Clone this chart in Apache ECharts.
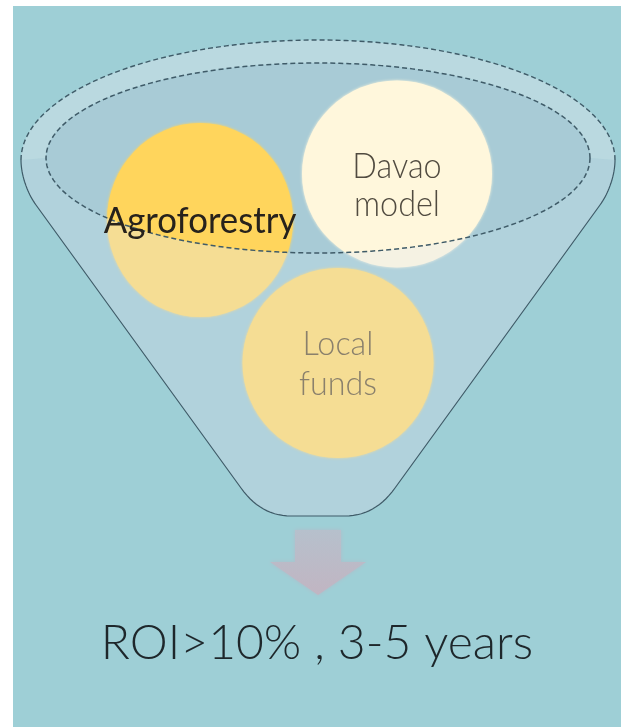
<!DOCTYPE html>
<html><head><meta charset="utf-8">
<script src="https://cdn.jsdelivr.net/npm/echarts@6/dist/echarts.min.js"></script>
<style>html,body{margin:0;padding:0;background:#fff;width:621px;height:727px;overflow:hidden}#c{position:absolute;left:13px;top:6px;width:608px;height:721px;}</style>
</head><body><div id="c"></div>
<script>
// ---- data ----
const circleNames = ['Agroforestry', 'Davao model', 'Local funds'];
const circleLabels = ['Agroforestry', 'Davao\nmodel', 'Local\nfunds'];
const circleX = [200, 397, 338];
const circleY = [220, 174, 363];
const circleW = [186, 190, 191];
const circleH = [194, 187, 190];
const caption = 'ROI>10% , 3-5 years';
// funnel geometry in data units: [cx, cy]
const funnelCenter = [318, 160];
const outerRim = [297, 120];      // rx, ry of funnel mouth
const innerRim = [272, 95, 158];  // rx, ry, cy of inner rim
const funnelSideTop = [282, 205]; // x offset from centre, y
const funnelSideBottom = [77, 488];
const funnelNeck = [27, 516, 57]; // half width, y, corner x offset
const arrowShape = [318, 530, 23, 562, 48, 595]; // cx, top, shaftHalf, headY, headHalf, tipY

// ---- styles ----
const circleColors = ['#FFD55C', '#FFF7DC', '#FFD55C'];
const labelColors = ['#27221C', '#514B40', '#8A806C'];
const labelSizes = [37, 36, 34];
const labelWeights = [400, 300, 300];
const labelScaleX = [0.94, 0.9, 0.95];
const labelLineHeights = [40, 38, 40];
const labelOffsets = [[0, 1], [0, 11], [0, 1]];

const chart = echarts.init(document.getElementById('c'));

function ellipsePts(cx, cy, rx, ry, t0, t1, n) {
  const pts = [];
  for (let i = 0; i <= n; i++) {
    const t = t0 + (t1 - t0) * i / n;
    pts.push([cx + rx * Math.cos(t), cy + ry * Math.sin(t)]);
  }
  return pts;
}
function cubic(p0, p1, p2, p3, n) {
  const pts = [];
  for (let i = 0; i <= n; i++) {
    const t = i / n, u = 1 - t;
    pts.push([
      u*u*u*p0[0] + 3*u*u*t*p1[0] + 3*u*t*t*p2[0] + t*t*t*p3[0],
      u*u*u*p0[1] + 3*u*u*t*p1[1] + 3*u*t*t*p2[1] + t*t*t*p3[1]
    ]);
  }
  return pts;
}
function quad(p0, p1, p2, n) {
  const pts = [];
  for (let i = 0; i <= n; i++) {
    const t = i / n, u = 1 - t;
    pts.push([u*u*p0[0] + 2*u*t*p1[0] + t*t*p2[0], u*u*p0[1] + 2*u*t*p1[1] + t*t*p2[1]]);
  }
  return pts;
}
function funnelGeom(cx, cy) {
  const [orx, ory] = outerRim;
  const [irx, iry, icy] = innerRim;
  const st = [cx + funnelSideTop[0], funnelSideTop[1]];
  const sb = [cx + funnelSideBottom[0], funnelSideBottom[1]];
  const dx = sb[0] - st[0], dy = sb[1] - st[1], L = Math.hypot(dx, dy);
  const ux = dx / L, uy = dy / L;
  const right = []
    .concat(cubic([cx + orx, cy], [cx + orx, cy + 15], [st[0] - ux * 15, st[1] - uy * 15], st, 20))
    .concat([sb])
    .concat(quad(sb, [cx + funnelNeck[2], funnelNeck[1]], [cx + funnelNeck[0], funnelNeck[1]], 14));
  const left = right.map(p => [2 * cx - p[0], p[1]]).reverse();
  return {
    outerTop: ellipsePts(cx, cy, orx, ory, Math.PI, 2 * Math.PI, 100),
    innerTop: ellipsePts(cx, icy, irx, iry, Math.PI, 2 * Math.PI, 100),
    innerBottom: ellipsePts(cx, icy, irx, iry, Math.PI, 0, 100),
    innerFull: ellipsePts(cx, icy, irx, iry, 0, 2 * Math.PI, 160),
    sides: right.concat(left)
  };
}

function renderFunnelBack(params, api) {
  const g = funnelGeom(api.value(0), api.value(1));
  const m = pts => pts.map(p => api.coord(p));
  const front = g.innerBottom.concat(g.sides);
  const rim = g.outerTop.concat(g.innerTop.slice().reverse());
  return { type: 'group', children: [
    { type: 'polygon', shape: { points: m(front) }, style: { fill: '#92C3D0' } },
    { type: 'polygon', shape: { points: m(rim) }, style: { fill: '#BAD9E0' } },
    { type: 'polygon', shape: { points: m(g.innerFull) }, style: { fill: '#A8CBD6' } }
  ]};
}
function renderFunnelFront(params, api) {
  const g = funnelGeom(api.value(0), api.value(1));
  const m = pts => pts.map(p => api.coord(p));
  const front = g.innerBottom.concat(g.sides);
  const stroke = '#3F5B68';
  return { type: 'group', children: [
    { type: 'polygon', shape: { points: m(front) }, style: { fill: 'rgba(228,234,238,0.38)' } },
    { type: 'polyline', shape: { points: m(g.outerTop) }, style: { fill: null, stroke: stroke, lineWidth: 1.4, lineDash: [5, 3] } },
    { type: 'polyline', shape: { points: m(g.sides) }, style: { fill: null, stroke: stroke, lineWidth: 1.2 } },
    { type: 'polygon', shape: { points: m(g.innerFull) }, style: { fill: null, stroke: stroke, lineWidth: 1.5, lineDash: [5, 3] } }
  ]};
}
function renderArrow(params, api) {
  const cx = api.value(0), top = api.value(1), sh = api.value(2), hy = api.value(3), hh = api.value(4), tip = api.value(5);
  const pts = [[cx - sh, top], [cx + sh, top], [cx + sh, hy], [cx + hh, hy], [cx, tip], [cx - hh, hy], [cx - sh, hy]].map(p => api.coord(p));
  return { type: 'polygon', shape: { points: pts }, style: {
    fill: new echarts.graphic.LinearGradient(0, 0, 0, 1, [
      { offset: 0, color: '#B6C0CC' }, { offset: 1, color: '#C1B5C2' }]),
    shadowBlur: 4, shadowColor: 'rgba(185,180,195,0.7)'
  }};
}
function renderLabel(params, api) {
  const i = params.dataIndex;
  const p = api.coord([api.value(0), api.value(1)]);
  return { type: 'text', x: p[0] + labelOffsets[i][0], y: p[1] + labelOffsets[i][1],
    scaleX: labelScaleX[i], scaleY: 1,
    style: { text: circleLabels[i], fontFamily: 'Lato', fontSize: labelSizes[i], fontWeight: labelWeights[i], lineHeight: labelLineHeights[i],
      fill: labelColors[i], align: 'center', verticalAlign: 'middle', textAlign: 'center', textVerticalAlign: 'middle' } };
}

chart.setOption({
  backgroundColor: '#9ECFD6',
  animation: false,
  title: { text: caption, left: 'center', top: 614, padding: 0,
    textStyle: { fontFamily: 'Lato', fontSize: 48, lineHeight: 48, fontWeight: 300, color: '#1E272B' } },
  grid: { left: 0, right: 0, top: 0, bottom: 0 },
  xAxis: { type: 'value', min: 13, max: 621, show: false },
  yAxis: { type: 'value', min: 6, max: 727, inverse: true, show: false },
  series: [
    { type: 'custom', name: 'funnel', z: 1, silent: true, renderItem: renderFunnelBack, data: [funnelCenter] },
    { type: 'scatter', name: 'circles', z: 2, silent: true,
      symbolSize: (v, p) => [circleW[p.dataIndex], circleH[p.dataIndex]],
      data: circleNames.map((n, i) => ({ name: n, value: [circleX[i], circleY[i]],
        itemStyle: { color: circleColors[i], opacity: 1, shadowBlur: 3, shadowColor: circleColors[i] } })) },
    { type: 'custom', name: 'funnelFront', z: 3, silent: true, renderItem: renderFunnelFront, data: [funnelCenter] },
    { type: 'custom', name: 'arrow', z: 3, silent: true, renderItem: renderArrow, data: [arrowShape] },
    { type: 'custom', name: 'labels', z: 4, silent: true, renderItem: renderLabel,
      data: circleNames.map((n, i) => ({ name: n, value: [circleX[i], circleY[i]] })) }
  ]
});
</script></body></html>
